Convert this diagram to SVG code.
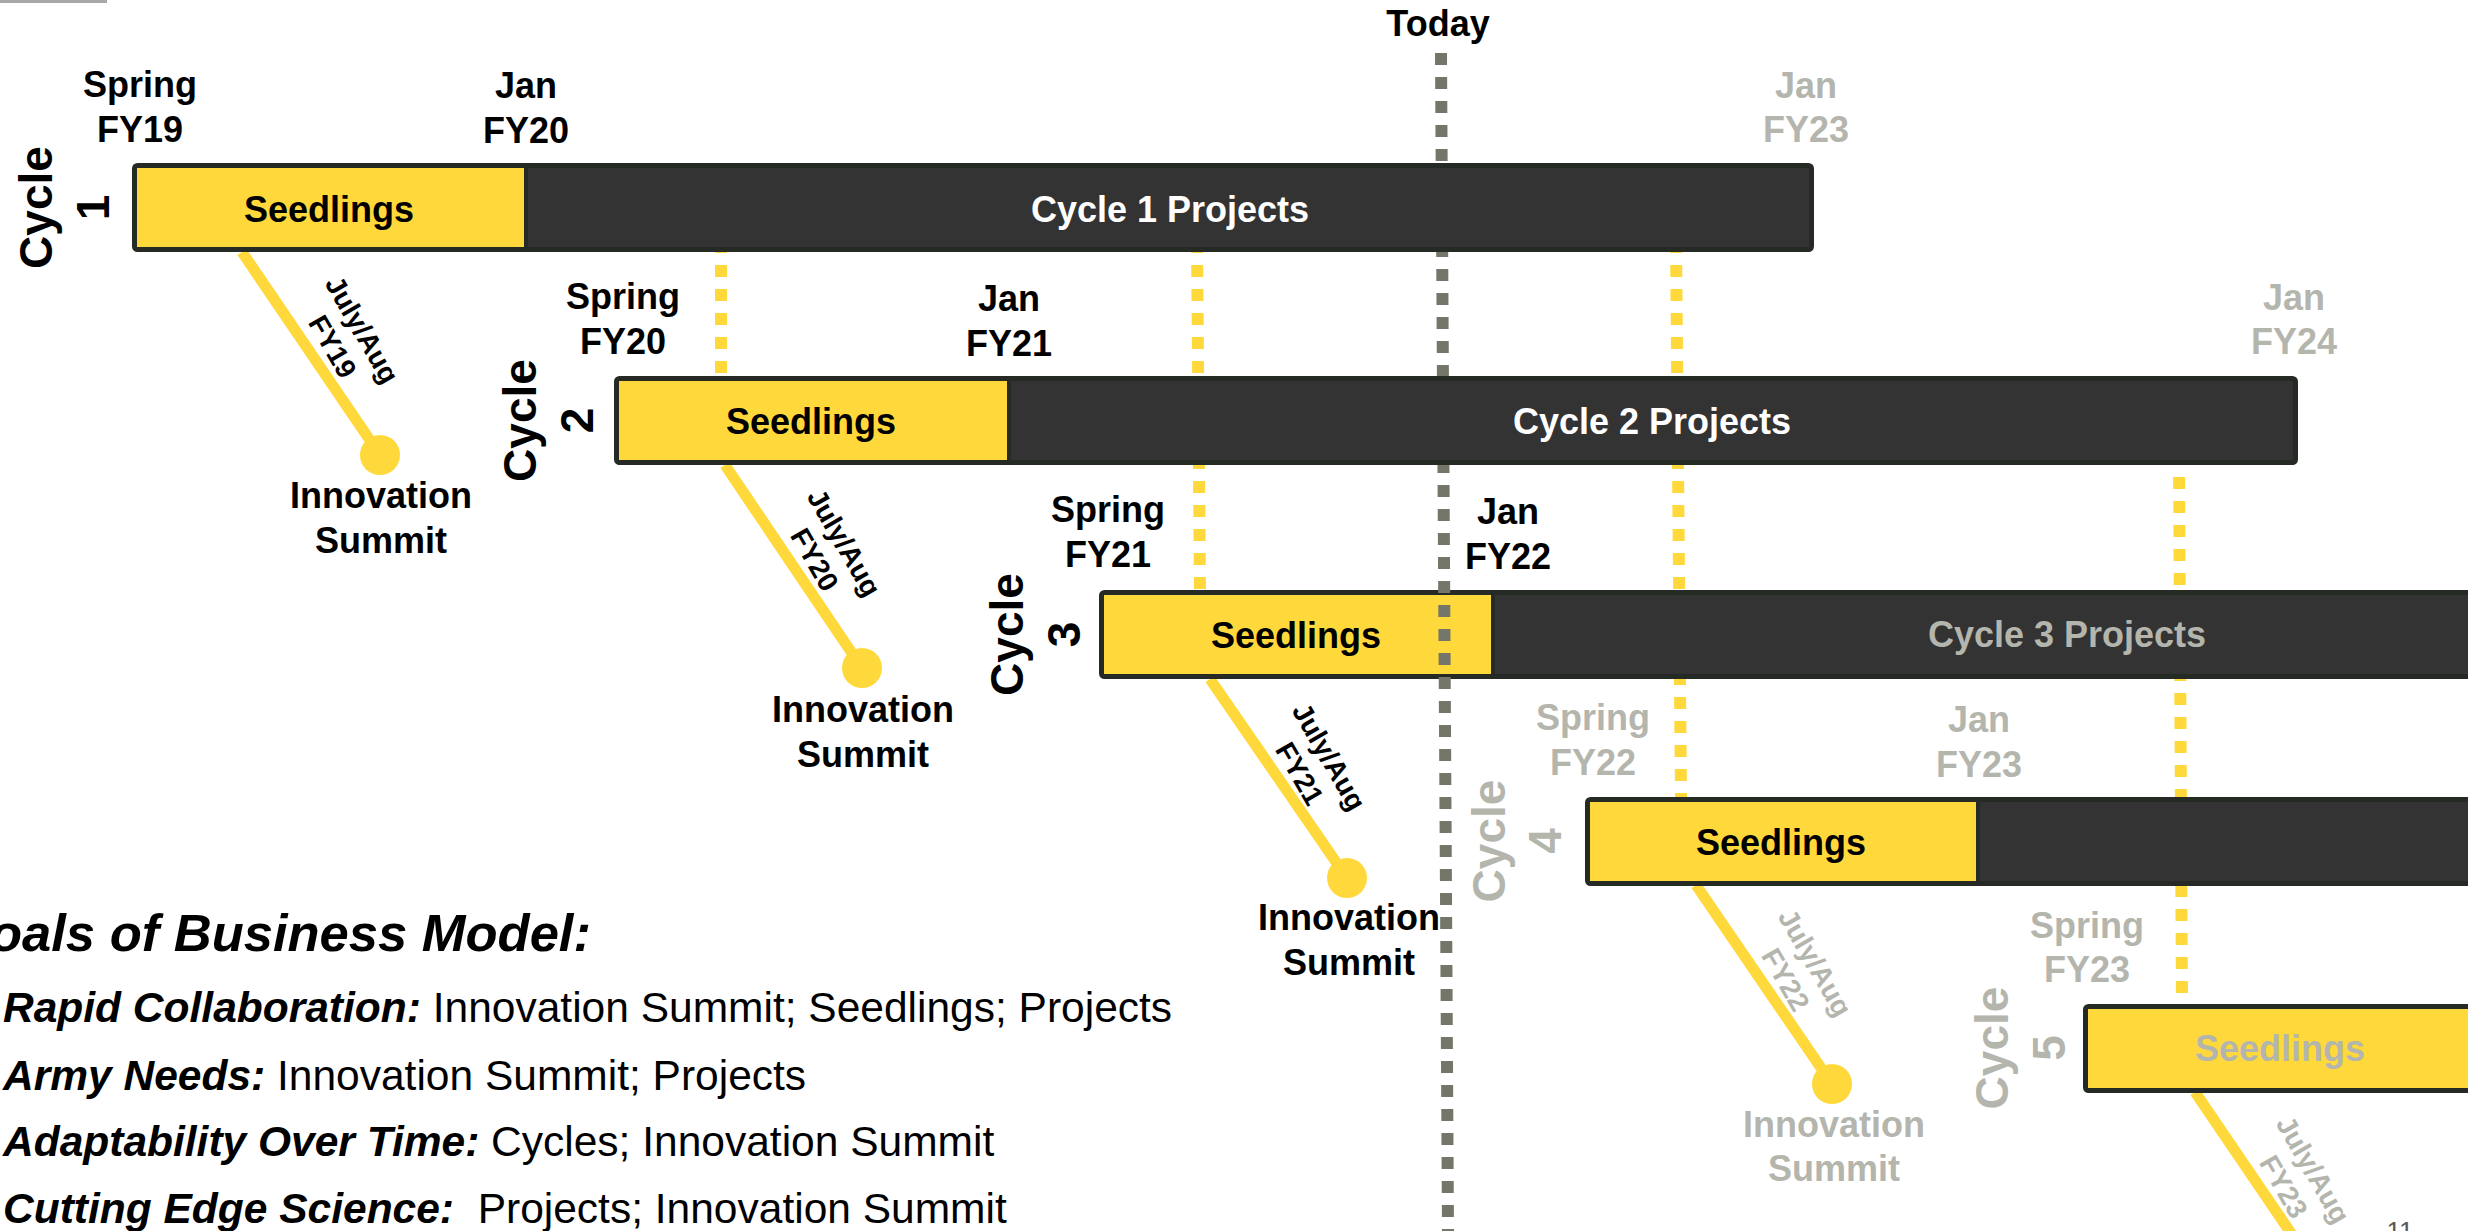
<svg xmlns="http://www.w3.org/2000/svg" width="2468" height="1231" viewBox="0 0 2468 1231">
<style>
text{font-family:"Liberation Sans",Arial,sans-serif;font-weight:bold;}
.m{text-anchor:middle;font-size:36px;}
.k{fill:#000000;}
.g{fill:#b4b5ad;}
.w{fill:#ffffff;}
.cyc{font-size:46px;text-anchor:middle;}
.ja{font-size:28px;text-anchor:middle;}
.frame{fill:#333333;stroke:#262a24;stroke-width:5;}
.seed{fill:#ffd93b;}
.split{stroke:#262a24;stroke-width:4;}
.ydot{stroke:#ffd93b;stroke-width:12;stroke-dasharray:12 12;fill:none;}
.tdot{stroke:#75766a;stroke-width:12;stroke-dasharray:12 12;fill:none;}
.conn{stroke:#ffd93b;stroke-width:11;fill:none;}
.dotc{fill:#ffd93b;}
.goal{font-size:42.5px;}
.bi{font-style:italic;font-weight:bold;}
.rg{font-weight:normal;font-style:normal;}
</style>
<rect x="0" y="0" width="107" height="3" fill="#a8a8a8"/>

<g id="guides">
<line class="ydot" x1="721" y1="241" x2="721" y2="376"/>
<line class="ydot" x1="1197" y1="241" x2="1200" y2="590"/>
<line class="ydot" x1="1676" y1="241" x2="1681" y2="797"/>
<line class="ydot" x1="2179" y1="453" x2="2182" y2="1004"/>
</g>

<g id="connectors">
<line class="conn" x1="242" y1="252" x2="380" y2="455"/>
<line class="conn" x1="725" y1="465" x2="862" y2="668"/>
<line class="conn" x1="1210" y1="679" x2="1347" y2="878"/>
<line class="conn" x1="1696" y1="885" x2="1832" y2="1084"/>
<line class="conn" x1="2195" y1="1092" x2="2331" y2="1292"/>
</g>

<g id="cycle3">
<rect class="frame" x="1101.5" y="592.5" width="1390" height="84" rx="3"/>
<rect class="seed" x="1104" y="595" width="389" height="79"/>
<line class="split" x1="1493" y1="595" x2="1493" y2="674"/>
<text class="m k" x="1296" y="648">Seedlings</text>
<text class="m g" x="2067" y="647">Cycle 3 Projects</text>
<g transform="translate(1099,634.5) rotate(-90)"><text class="cyc k" x="0" y="-76">Cycle</text><text class="cyc k" x="0" y="-19">3</text></g>
<text class="m k" x="1108" y="522">Spring</text><text class="m k" x="1108" y="567">FY21</text>
<text class="m k" x="1508" y="524">Jan</text><text class="m k" x="1508" y="569">FY22</text>
</g>

<g id="cycle4">
<rect class="frame" x="1587.5" y="799.5" width="904" height="84" rx="3"/>
<rect class="seed" x="1590" y="802" width="388" height="79"/>
<line class="split" x1="1978" y1="802" x2="1978" y2="881"/>
<text class="m k" x="1781" y="855">Seedlings</text>
<g transform="translate(1585,841) rotate(-90)"><text class="cyc g" x="0" y="-80">Cycle</text><text class="cyc g" x="0" y="-24">4</text></g>
<text class="m g" x="1593" y="730">Spring</text><text class="m g" x="1593" y="775">FY22</text>
<text class="m g" x="1979" y="732">Jan</text><text class="m g" x="1979" y="777">FY23</text>
</g>

<g id="cycle5">
<rect class="frame" x="2085.5" y="1006.5" width="406" height="84" rx="3"/>
<rect class="seed" x="2088" y="1009" width="400" height="79"/>
<text class="m g" x="2280" y="1061">Seedlings</text>
<g transform="translate(2083,1048) rotate(-90)"><text class="cyc g" x="0" y="-75">Cycle</text><text class="cyc g" x="0" y="-18">5</text></g>
<text class="m g" x="2087" y="938">Spring</text><text class="m g" x="2087" y="982">FY23</text>
</g>

<g id="today">
<line class="tdot" x1="1441" y1="53" x2="1448" y2="1231"/>
<text class="m k" x="1438" y="36">Today</text>
</g>

<g id="cycle1">
<rect class="frame" x="134.5" y="165.5" width="1677" height="84" rx="3"/>
<rect class="seed" x="137" y="168" width="389" height="79"/>
<line class="split" x1="526" y1="168" x2="526" y2="247"/>
<text class="m k" x="329" y="222">Seedlings</text>
<text class="m w" x="1170" y="222">Cycle 1 Projects</text>
<g transform="translate(132,207.5) rotate(-90)"><text class="cyc k" x="0" y="-80">Cycle</text><text class="cyc k" x="0" y="-23">1</text></g>
<text class="m k" x="140" y="97">Spring</text><text class="m k" x="140" y="142">FY19</text>
<text class="m k" x="526" y="98">Jan</text><text class="m k" x="526" y="143">FY20</text>
<text class="m g" x="1806" y="98">Jan</text><text class="m g" x="1806" y="142">FY23</text>
</g>

<g id="cycle2">
<rect class="frame" x="616.5" y="378.5" width="1679" height="84" rx="3"/>
<rect class="seed" x="619" y="381" width="390" height="79"/>
<line class="split" x1="1009" y1="381" x2="1009" y2="460"/>
<text class="m k" x="811" y="434">Seedlings</text>
<text class="m w" x="1652" y="434">Cycle 2 Projects</text>
<g transform="translate(614,420.5) rotate(-90)"><text class="cyc k" x="0" y="-78">Cycle</text><text class="cyc k" x="0" y="-21">2</text></g>
<text class="m k" x="623" y="309">Spring</text><text class="m k" x="623" y="354">FY20</text>
<text class="m k" x="1009" y="311">Jan</text><text class="m k" x="1009" y="356">FY21</text>
<text class="m g" x="2294" y="310">Jan</text><text class="m g" x="2294" y="354">FY24</text>
</g>

<g id="summit1">
<circle class="dotc" cx="380" cy="455" r="20"/>
<text class="m k" x="381" y="508">Innovation</text><text class="m k" x="381" y="553">Summit</text>
<g transform="translate(346,339) rotate(60)"><text class="ja k" x="0" y="-9">July/Aug</text><text class="ja k" x="0" y="25">FY19</text></g>
</g>
<g id="summit2">
<circle class="dotc" cx="862" cy="668" r="20"/>
<text class="m k" x="863" y="722">Innovation</text><text class="m k" x="863" y="767">Summit</text>
<g transform="translate(828,552) rotate(60)"><text class="ja k" x="0" y="-9">July/Aug</text><text class="ja k" x="0" y="25">FY20</text></g>
</g>
<g id="summit3">
<circle class="dotc" cx="1347" cy="878" r="20"/>
<text class="m k" x="1349" y="930">Innovation</text><text class="m k" x="1349" y="975">Summit</text>
<g transform="translate(1313,766) rotate(60)"><text class="ja k" x="0" y="-9">July/Aug</text><text class="ja k" x="0" y="25">FY21</text></g>
</g>
<g id="summit4">
<circle class="dotc" cx="1832" cy="1084" r="20"/>
<text class="m g" x="1834" y="1137">Innovation</text><text class="m g" x="1834" y="1181">Summit</text>
<g transform="translate(1799,972) rotate(60)"><text class="ja g" x="0" y="-9">July/Aug</text><text class="ja g" x="0" y="25">FY22</text></g>
</g>
<g id="summit5">
<g transform="translate(2297,1179) rotate(60)"><text class="ja g" x="0" y="-9">July/Aug</text><text class="ja g" x="0" y="25">FY23</text></g>
</g>

<g id="goals">
<text class="bi k" x="-10" y="951" font-size="52.5">oals of Business Model:</text>
<text class="goal k" x="3" y="1022" xml:space="preserve"><tspan class="bi">Rapid Collaboration:</tspan><tspan class="rg"> Innovation Summit; Seedlings; Projects</tspan></text>
<text class="goal k" x="3" y="1090" xml:space="preserve"><tspan class="bi">Army Needs:</tspan><tspan class="rg"> Innovation Summit; Projects</tspan></text>
<text class="goal k" x="3" y="1156" xml:space="preserve"><tspan class="bi">Adaptability Over Time:</tspan><tspan class="rg"> Cycles; Innovation Summit</tspan></text>
<text class="goal k" x="3" y="1223" xml:space="preserve"><tspan class="bi">Cutting Edge Science:</tspan><tspan class="rg">  Projects; Innovation Summit</tspan></text>
</g>
<text x="2400" y="1240" font-size="26" fill="#595959" text-anchor="middle" style="font-weight:normal">11</text>
</svg>
